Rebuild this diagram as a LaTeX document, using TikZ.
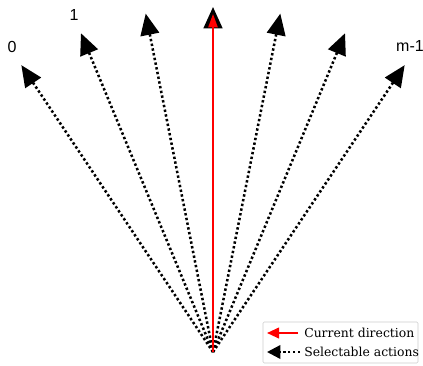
\documentclass[tikz,border=0pt]{standalone}
\usepackage{fontspec}
\setmainfont{DejaVu Serif}
\newfontfamily\labfont{Liberation Sans}
\usetikzlibrary{arrows.meta,calc}
\tikzset{
  actarrow/.style={line width=1.9pt, dash pattern=on 1.8pt off 1.8pt, black,
    -{Triangle[length=16pt,width=14pt]}},
  curarrow/.style={line width=1.1pt, red, -{Triangle[length=10pt,width=7pt]}},
  lab/.style={font=\labfont\fontsize{12}{14}\selectfont, inner sep=0pt},
  legtext/.style={font=\fontsize{9.3}{11}\selectfont, anchor=west, inner sep=0pt}
}
\begin{document}
\begin{tikzpicture}[x=0.75pt,y=0.75pt]
\useasboundingbox (0,0) rectangle (423,365);
\coordinate (O) at (213,13);
\foreach \k in {-3,...,3}{
  \coordinate (t\k) at ($(O)+(90+\k*11.25:345)$);
}
\foreach \k in {-3,...,3}{
  \draw[actarrow] (O) -- (t\k);
}
\coordinate (r) at ($(O)+(90:338)$);
\draw[curarrow] (O) -- (r);
\node[lab] (l0) at (12,318) {0};
\node[lab] (l1) at (74,350) {1};
\node[lab] (lm) at (410,319) {m-1};
% legend
\node[draw=black!20, rounded corners=1pt, minimum width=155*0.75pt, minimum height=41*0.75pt, inner sep=0pt] (leg) at (340.5,22.5) {};
\coordinate (a1s) at (298,32);
\coordinate (a1e) at (267,32);
\coordinate (a2s) at (300,13);
\coordinate (a2e) at (267,13);
\draw[line width=1.4pt, red, -{Triangle[length=9pt,width=8pt]}] (a1s) -- (a1e);
\draw[line width=1.8pt, dash pattern=on 1.8pt off 1.8pt, -{Triangle[length=10pt,width=10pt]}] (a2s) -- (a2e);
\node[legtext] (txt1) at (304,32) {Current direction};
\node[legtext] (txt2) at (304,13) {Selectable actions};
\end{tikzpicture}
\end{document}
